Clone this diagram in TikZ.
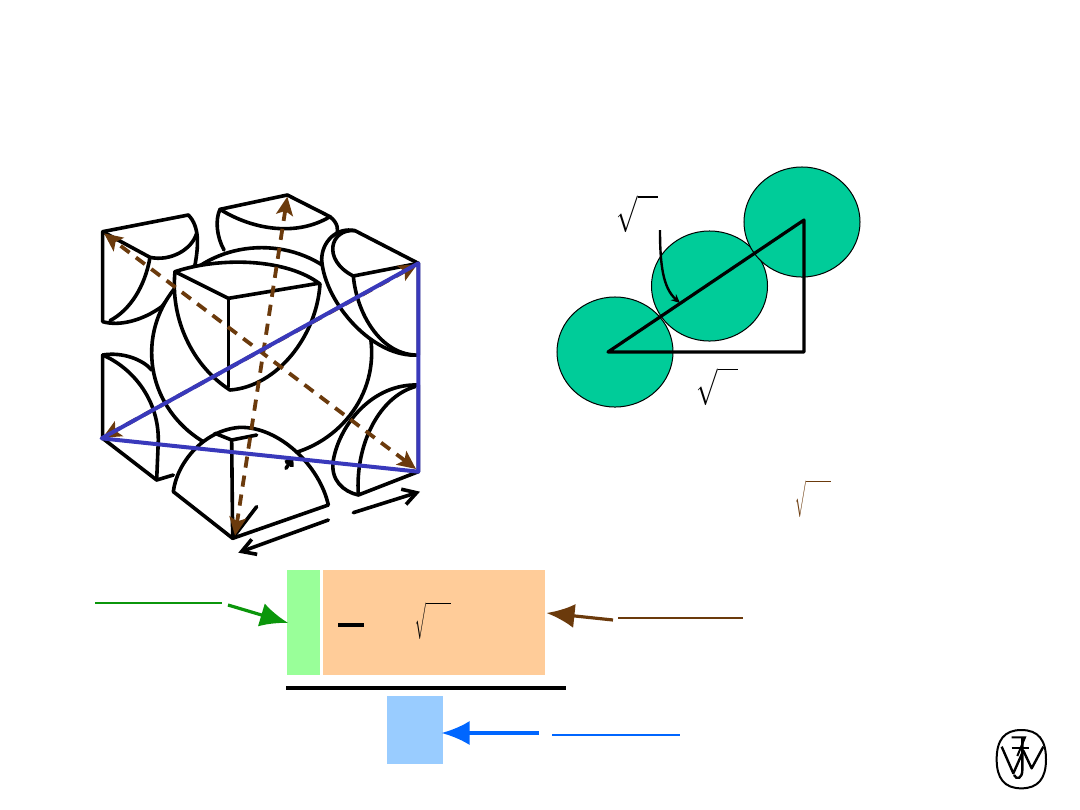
\documentclass[tikz,border=0pt]{standalone}
\usetikzlibrary{arrows.meta,shapes.geometric}
\definecolor{ballgreen}{HTML}{00CC99}
\definecolor{dashbrown}{HTML}{6B3A0C}
\definecolor{triblue}{HTML}{3939BB}
\definecolor{boxgreen}{HTML}{99FF99}
\definecolor{boxorange}{HTML}{FFCC99}
\definecolor{boxblue}{HTML}{99CCFF}
\definecolor{linegreen}{HTML}{0B960B}
\definecolor{lineblue}{HTML}{0066FF}
\newcommand{\rootwide}{\scalebox{0.7}[1]{$\sqrt{\vphantom{x}\hspace{8pt}}$}}
\newcommand{\rootthin}{\scalebox{0.35}[1]{$\sqrt{\vphantom{x}\hspace{19.5pt}}$}}
\tikzset{
  octant/.style = {draw, fill = white, line width = 0.9mm, line join = round},
  edge/.style = {line width = 0.9mm, line cap = round, line join = round},
  ball/.style = {ellipse, draw, fill = ballgreen, line width = 0.25mm, minimum width = 2.9cm, minimum height = 2.75cm, inner sep = 0},
  term/.style = {draw = none, inner sep = 0, minimum height = 2.625cm},
  diag/.style = {dashbrown, line width = 0.95mm, dash pattern = on 2.8mm off 2mm, {Stealth[length = 4.6mm, width = 4.2mm, inset = 1mm]}-{Stealth[length = 4.6mm, width = 4.2mm, inset = 1mm]}},
  root/.style = {inner sep = 0, scale = 2.6}
}
\begin{document}
\begin{tikzpicture}[x = 0.025cm, y = -0.025cm]
  \useasboundingbox (0, 0) rectangle (1080, 810);

  % cube with its corner pieces
  \begin{scope}[shift = {(80, 170)}, x = 0.008333cm, y = -0.008333cm]
    % back top
    \draw [edge] (432, 240) .. controls (410, 200) and (405, 150) .. (420, 118) -- (622, 75) -- (750, 140) .. controls (775, 160) and (775, 180) .. (770, 195);
    \draw [edge] (420, 118) .. controls (520, 180) and (650, 200) .. (750, 140);
    % top left
    \draw [octant] (68, 185) -- (325, 135) .. controls (360, 170) and (355, 230) .. (345, 285) -- (245, 410) .. controls (190, 450) and (120, 470) .. (68, 455) -- cycle;
    \draw [edge] (68, 185) -- (210, 262) .. controls (270, 275) and (335, 240) .. (350, 190);
    \draw [edge] (210, 262) .. controls (195, 350) and (150, 420) .. (90, 452);
    % bottom left
    \draw [edge] (215, 600) .. controls (190, 570) and (130, 545) .. (68, 555) -- (68, 805) -- (230, 930) -- (280, 915);
    \draw [edge] (68, 555) .. controls (150, 590) and (235, 680) .. (235, 810) -- (230, 930);
    % centre ball
    \draw [octant] (545, 548) ellipse (330 and 315);
    % top right
    \draw [octant] (1015, 280) -- (825, 182) .. controls (770, 170) and (725, 215) .. (725, 270) .. controls (735, 400) and (880, 565) .. (1015, 555) -- cycle;
    \draw [edge] (825, 182) .. controls (750, 175) and (725, 270) .. (820, 318) -- (1015, 280);
    \draw [edge] (820, 318) .. controls (830, 430) and (900, 550) .. (1005, 555);
    % bottom right
    \draw [octant] (1015, 645) .. controls (880, 640) and (780, 760) .. (760, 870) .. controls (750, 930) and (790, 965) .. (835, 975) -- (1015, 905) -- cycle;
    \draw [edge] (835, 975) .. controls (825, 820) and (900, 680) .. (1005, 650);
    % bottom front
    \draw [octant] (280, 965) .. controls (290, 880) and (370, 780) .. (480, 772) .. controls (600, 770) and (720, 890) .. (745, 1005) -- (458, 1105) -- cycle;
    \draw [edge] (405, 790) -- (455, 810) -- (458, 1105);
    \draw [edge] (455, 810) -- (530, 795);
    % front top
    \draw [octant] (285, 305) .. controls (420, 260) and (620, 265) .. (720, 342) .. controls (710, 500) and (590, 650) .. (450, 660) .. controls (340, 590) and (270, 450) .. (285, 305) -- cycle;
    \draw [edge] (285, 305) -- (445, 385) -- (715, 340);
    \draw [edge] (445, 385) -- (445, 650);
    % length marks
    \draw [edge, -{Straight Barb[length = 3.4mm, width = 4mm]}] (820, 1028) -- (1020, 965);
    \draw [edge, -{Straight Barb[length = 3.4mm, width = 4mm]}] (745, 1050) -- (475, 1148);
    \draw [edge, -{Straight Barb[length = 1.4mm, width = 2mm]}] (618, 895) -- (640, 862);
    \draw [edge] (530, 1010) -- (465, 1095);
    % diagonals
    \draw [diag] (1008, 897) -- (72, 190);
    \draw [diag] (622, 80) -- (465, 1097);
    \draw [diag] (1012, 283) -- (68, 803);
    \draw [triblue, line width = 1mm, line join = round] (65, 805) -- (1015, 280) -- (1015, 905) -- cycle;
  \end{scope}

  % three touching balls
  \node [ball] (ballA) at (615, 352) {};
  \node [ball] (ballB) at (709.5, 286) {};
  \node [ball] (ballC) at (802, 222) {};
  \coordinate (triA) at (608, 352);
  \coordinate (triB) at (804, 220);
  \coordinate (triC) at (804, 352);
  \draw [line width = 0.8mm, line join = round] (triA) -- (triB) -- (triC) -- cycle;
  \coordinate (bendtail) at (660, 230);
  \coordinate (bendtip) at (680, 303);
  \draw [line width = 0.6mm, -{Stealth[length = 2.2mm, width = 2mm]}] (bendtail) .. controls (660, 265) and (663, 288) .. (bendtip);
  \node [root] (rootA) at (637.5, 214) {\rootwide};
  \node [root] (rootB) at (717.5, 386.5) {\rootwide};
  \node [root, text = dashbrown] (rootC) at (813, 498.5) {\rootthin};

  % fraction
  \node [term, fill = boxgreen, minimum width = 0.825cm] (numA) at (303.5, 622.5) {};
  \node [term, fill = boxorange, minimum width = 5.55cm] (numB) at (434, 622.5) {};
  \node [term, fill = boxblue, minimum width = 1.4cm, minimum height = 1.7cm] (denom) at (415, 730) {};
  \draw [line width = 1.1mm] (286, 688) -- (566, 688);
  \draw [line width = 0.85mm] (338, 625) -- (364, 625);
  \node [root] (rootD) at (433.5, 620.5) {\rootthin};

  \coordinate (greentail) at (228, 605);
  \coordinate (browntail) at (613, 620);
  \coordinate (browntip) at (546.5, 613);
  \coordinate (bluetail) at (539, 733);
  \coordinate (bluetip) at (441.5, 733);
  \draw [linegreen, line width = 0.7mm] (95, 603) -- (222, 603);
  \draw [linegreen, line width = 0.8mm, shorten > = -0.4mm, -{Latex[length = 7mm, width = 6mm]}] (greentail) -- (numA.west);
  \draw [dashbrown, line width = 0.7mm] (618, 618) -- (743, 618);
  \draw [dashbrown, line width = 0.8mm, -{Latex[length = 7mm, width = 6mm]}] (browntail) -- (browntip);
  \draw [lineblue, line width = 0.7mm] (552, 735) -- (680, 735);
  \draw [lineblue, line width = 0.8mm, -{Latex[length = 7mm, width = 6mm]}] (bluetail) -- (bluetip);

  % publisher mark
  \begin{scope}[shift = {(980, 720)}, x = 0.008333cm, y = -0.008333cm]
    \draw [line width = 0.5mm] (124, 30) .. controls (175, 30) and (198, 60) .. (198, 118) .. controls (198, 175) and (175, 205) .. (124, 205) .. controls (73, 205) and (50, 175) .. (50, 118) .. controls (50, 60) and (73, 30) .. (124, 30) -- cycle;
    \draw [line width = 0.6mm, line join = round] (65, 80) -- (100, 160) -- (130, 92) -- (155, 145) -- (190, 80);
    \draw [line width = 0.5mm] (95, 52) -- (135, 52) -- (112, 108);
    \draw [line width = 0.5mm] (95, 85) -- (148, 85);
    \draw [line width = 0.6mm] (127, 52) -- (127, 150) .. controls (127, 175) and (110, 182) .. (102, 165);
  \end{scope}
\end{tikzpicture}
\end{document}
